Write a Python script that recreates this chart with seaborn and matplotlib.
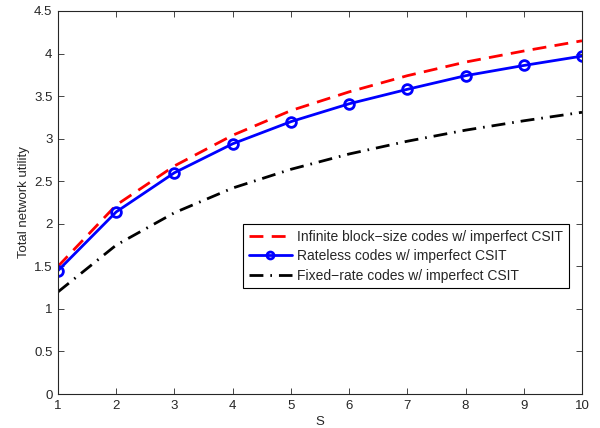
import matplotlib
matplotlib.use("Agg")
import matplotlib.pyplot as plt
import seaborn as sns
import pandas as pd

S = [1, 2, 3, 4, 5, 6, 7, 8, 9, 10]
infinite = [1.50, 2.22, 2.68, 3.04, 3.33, 3.55, 3.74, 3.90, 4.03, 4.15]
rateless = [1.45, 2.14, 2.60, 2.94, 3.20, 3.41, 3.58, 3.74, 3.86, 3.97]
fixed = [1.20, 1.75, 2.13, 2.42, 2.64, 2.82, 2.97, 3.10, 3.21, 3.31]
labels = ["Infinite block\u2212size codes w/ imperfect CSIT",
          "Rateless codes w/ imperfect CSIT",
          "Fixed\u2212rate codes w/ imperfect CSIT"]

sns.set_style("ticks")
plt.rcParams['font.family'] = ['Liberation Sans', 'DejaVu Sans']

fig = plt.figure(figsize=(6, 4.28), dpi=100)
ax = fig.add_axes([0.0967, 0.0794, 0.8733, 0.8949])

df = pd.DataFrame({"S": S, "v1": infinite, "v2": rateless, "v3": fixed})
sns.lineplot(data=df, x="S", y="v1", ax=ax, color="red", linestyle=(0, (5, 3)),
             linewidth=2, label=labels[0])
sns.lineplot(data=df, x="S", y="v2", ax=ax, color="blue", linestyle="-", linewidth=2,
             marker="o", markersize=7, markerfacecolor="none", markeredgecolor="blue",
             markeredgewidth=2, label=labels[1])
sns.lineplot(data=df, x="S", y="v3", ax=ax, color="black", linestyle=(0, (5, 2.5, 0.6, 2.5)),
             linewidth=2, label=labels[2])

ax.set_xlim(1, 10)
ax.set_ylim(0, 4.5)
ax.set_xticks(S)
ax.set_yticks([0, 0.5, 1, 1.5, 2, 2.5, 3, 3.5, 4, 4.5])
ax.set_yticklabels(["0", "0.5", "1", "1.5", "2", "2.5", "3", "3.5", "4", "4.5"])
ax.tick_params(direction="in", top=True, right=True, labelsize=9.5, length=4, width=0.6, pad=4)
for sp in ax.spines.values():
    sp.set_visible(True)
    sp.set_linewidth(0.8)
ax.set_xlabel("S", fontsize=9.5, labelpad=3)
ax.set_ylabel("Total network utility", fontsize=9.5, labelpad=3)

leg = ax.legend(loc="upper right", bbox_to_anchor=(0.9752, 0.4439), fontsize=10,
                frameon=True, fancybox=False, edgecolor="black", framealpha=1,
                borderpad=0.4, handlelength=3.1, handletextpad=0.4,
                labelspacing=0.4, borderaxespad=0)
leg.get_frame().set_linewidth(0.8)
leg.legend_handles[1].set_markersize(5)

fig.savefig("out.png", dpi=100)
